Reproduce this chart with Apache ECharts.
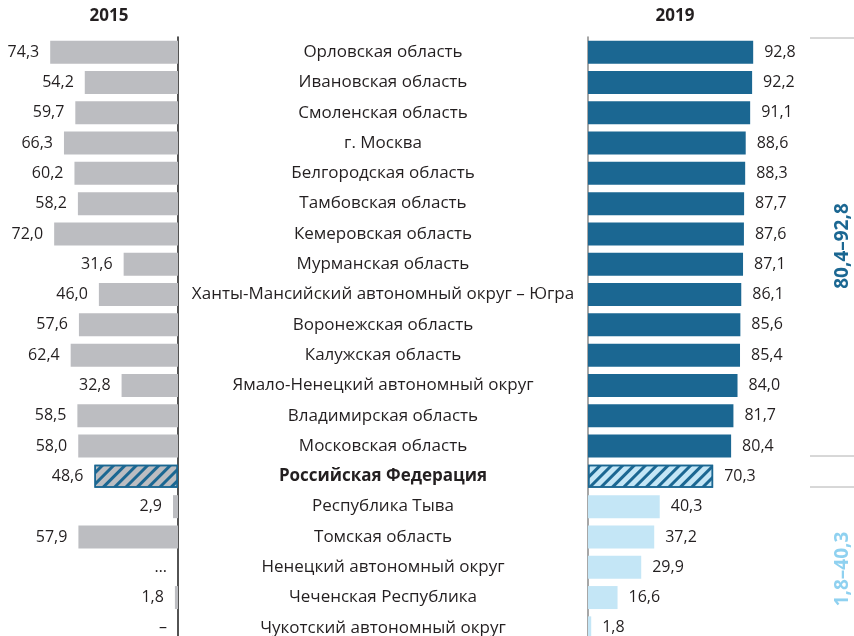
<!DOCTYPE html>
<html lang="ru" style="height: 100%">
<head>
  <meta charset="utf-8">
</head>
<body style="height: 100%; margin: 0; background: #fff; overflow: hidden">
  <div id="container" style="width: 854px; height: 660px;"></div>

  <script type="text/javascript" src="https://cdn.jsdelivr.net/npm/echarts@6/dist/echarts.min.js"></script>
  <script type="text/javascript">
    // regions, top to bottom
    var regions = [
      'Орловская область', 'Ивановская область', 'Смоленская область', 'г. Москва',
      'Белгородская область', 'Тамбовская область', 'Кемеровская область', 'Мурманская область',
      'Ханты-Мансийский автономный округ – Югра', 'Воронежская область', 'Калужская область',
      'Ямало-Ненецкий автономный округ', 'Владимирская область', 'Московская область',
      'Российская Федерация', 'Республика Тыва', 'Томская область',
      'Ненецкий автономный округ', 'Чеченская Республика', 'Чукотский автономный округ'
    ];
    // null = no data ("…" or "–" in the source)
    var values2015 = [74.3, 54.2, 59.7, 66.3, 60.2, 58.2, 72.0, 31.6, 46.0, 57.6, 62.4, 32.8,
                      58.5, 58.0, 48.6, 2.9, 57.9, null, 1.8, null];
    var missing2015 = { 17: '…', 19: '–' };
    var values2019 = [92.8, 92.2, 91.1, 88.6, 88.3, 87.7, 87.6, 87.1, 86.1, 85.6, 85.4, 84.0,
                      81.7, 80.4, 70.3, 40.3, 37.2, 29.9, 16.6, 1.8];
    var totalIndex = 14;

    var GRAY = '#bcbdc1';
    var DARK = '#1b6792';
    var LIGHT = '#c4e6f6';
    var TEXT = '#231f20';
    var FONT = 'Open Sans';

    function fmt(v) { return v.toFixed(1).replace('.', ','); }

    var hatch = {
      symbol: 'rect',
      symbolSize: 1,
      dashArrayX: [1, 0],
      dashArrayY: [3, 5],
      rotation: -Math.PI / 4,
      color: DARK
    };

    var data2015 = values2015.map(function (v, i) {
      var item = { value: v === null ? 0 : v, itemStyle: { color: GRAY } };
      if (i === totalIndex) {
        item.itemStyle = { color: GRAY, borderColor: DARK, borderWidth: 1.5, decal: hatch };
      }
      return item;
    });
    var data2019 = values2019.map(function (v, i) {
      var c = i < totalIndex ? DARK : LIGHT;
      var item = { value: v, itemStyle: { color: c } };
      if (i === totalIndex) {
        item.itemStyle = { color: LIGHT, borderColor: DARK, borderWidth: 1.5, decal: hatch };
      }
      return item;
    });

    var dom = document.getElementById('container');
    var myChart = echarts.init(dom, null, { renderer: 'canvas' });

    var option = {
      animation: false,
      aria: { enabled: false, decal: { show: true } },
      textStyle: { fontFamily: FONT },
      grid: [
        { left: 6, width: 172, top: 37, height: 606 },
        { left: 588, width: 178, top: 37, height: 606 }
      ],
      xAxis: [
        { gridIndex: 0, type: 'value', min: 0, max: 100, inverse: true, show: false },
        { gridIndex: 1, type: 'value', min: 0, max: 100, show: false }
      ],
      yAxis: [
        {
          gridIndex: 0, type: 'category', data: regions, inverse: true, position: 'right',
          axisLine: { show: true, lineStyle: { color: '#1a1a1a', width: 1.5 } },
          axisTick: { show: false }, axisLabel: { show: false }
        },
        {
          gridIndex: 1, type: 'category', data: regions, inverse: true, position: 'left',
          axisLine: { show: true, lineStyle: { color: '#8a8a8a', width: 1.5 } },
          axisTick: { show: false },
          axisLabel: {
            margin: 205, align: 'center', fontSize: 17, color: TEXT, fontFamily: FONT,
            formatter: function (name) {
              return name === regions[totalIndex] ? '{b|' + name + '}' : name;
            },
            rich: { b: { fontWeight: 'bold', fontSize: 17, color: TEXT, fontFamily: FONT } }
          }
        }
      ],
      series: [
        {
          type: 'bar', xAxisIndex: 0, yAxisIndex: 0, data: data2015, barWidth: 23,
          label: {
            show: true, position: 'left', distance: 11, fontSize: 16, color: TEXT,
            formatter: function (p) {
              return missing2015[p.dataIndex] || fmt(values2015[p.dataIndex]);
            }
          }
        },
        {
          type: 'bar', xAxisIndex: 1, yAxisIndex: 1, data: data2019, barWidth: 23,
          label: {
            show: true, position: 'right', distance: 11, fontSize: 16, color: TEXT,
            formatter: function (p) { return fmt(p.value); }
          }
        }
      ],
      graphic: [
        {
          type: 'text', x: 109, y: 16,
          style: { text: '2015', fill: TEXT, font: 'bold 17px "Open Sans"', align: 'center', verticalAlign: 'middle' }
        },
        {
          type: 'text', x: 675, y: 16,
          style: { text: '2019', fill: TEXT, font: 'bold 17px "Open Sans"', align: 'center', verticalAlign: 'middle' }
        },
        { type: 'line', shape: { x1: 810, y1: 38, x2: 854, y2: 38 }, style: { stroke: '#b0b0b0', lineWidth: 1 } },
        { type: 'line', shape: { x1: 810, y1: 456, x2: 854, y2: 456 }, style: { stroke: '#b0b0b0', lineWidth: 1 } },
        { type: 'line', shape: { x1: 810, y1: 487, x2: 854, y2: 487 }, style: { stroke: '#b0b0b0', lineWidth: 1 } },
        {
          type: 'text', x: 843, y: 246, rotation: Math.PI / 2,
          style: { text: '80,4–92,8', fill: DARK, font: 'bold 19px "Open Sans"', align: 'center', verticalAlign: 'middle' }
        },
        {
          type: 'text', x: 843, y: 569, rotation: Math.PI / 2,
          style: { text: '1,8–40,3', fill: '#8fd1f0', font: 'bold 19px "Open Sans"', align: 'center', verticalAlign: 'middle' }
        }
      ]
    };

    myChart.setOption(option);
    window.addEventListener('resize', myChart.resize);
  </script>
</body>
</html>
